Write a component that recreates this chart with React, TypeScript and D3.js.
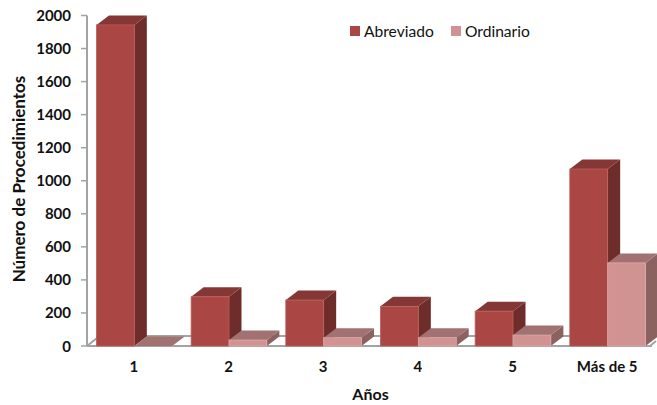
import React from "react";
import * as d3 from "d3";

const categories = ["1", "2", "3", "4", "5", "Más de 5"];
const abreviado = [1943, 298, 278, 240, 211, 1071];
const ordinario = [0, 36, 50, 50, 66, 503];
const yTicks = [0, 200, 400, 600, 800, 1000, 1200, 1400, 1600, 1800, 2000];
const seriesNames = ["Abreviado", "Ordinario"];

const W = 657;
const H = 405;
const AXIS_X = 87;
const DEPTH_X = 12.5;
const DEPTH_Y = 9.5;
const FONT = "Lato, 'Open Sans', sans-serif";

const palettes = [
  { front: "#aa4643", side: "#6e2d2b", top: "#853735", edge: "#b9605d" },
  { front: "#d19392", side: "#8c6261", top: "#a17271", edge: "#dba9a8" },
];

const y = d3.scaleLinear().domain([0, 2000]).range([346, 15.5]);
const x0 = d3
  .scaleBand<string>()
  .domain(categories)
  .range([AXIS_X, 655])
  .paddingInner(0.2)
  .paddingOuter(0.1);
const x1 = d3
  .scaleBand<number>()
  .domain([0, 1])
  .range([0, x0.bandwidth()]);

const poly = (pts: [number, number][]) => pts.map((p) => p.join(",")).join(" ");

function Bar3D({ x, w, value, pal }: { x: number; w: number; value: number; pal: (typeof palettes)[number] }) {
  const top = y(value);
  const base = y(0);
  const r = x + w;
  return (
    <g>
      <polygon
        points={poly([[r, top], [r + DEPTH_X, top - DEPTH_Y], [r + DEPTH_X, base - DEPTH_Y], [r, base]])}
        fill={pal.side}
      />
      <polygon
        points={poly([[x, top], [x + DEPTH_X, top - DEPTH_Y], [r + DEPTH_X, top - DEPTH_Y], [r, top]])}
        fill={pal.top}
      />
      {value > 0 && (
        <rect x={x} y={top} width={w} height={base - top} fill={pal.front} stroke={pal.edge} strokeWidth={0.8} />
      )}
    </g>
  );
}

export default function App() {
  const base = y(0);
  const floorBack = base - DEPTH_Y - 0.5;
  return (
    <svg
      width={W}
      height={H}
      viewBox={`0 0 ${W} ${H}`}
      style={{ position: "absolute", left: 0, top: 0, background: "#fff" }}
      fontFamily={FONT}
    >
      {/* floor of the 3D plot */}
      <g stroke="#a3a3a3" strokeWidth={2} fill="none">
        <line x1={AXIS_X + 9} y1={floorBack} x2={656} y2={floorBack} />
        <line x1={AXIS_X} y1={base} x2={AXIS_X + DEPTH_X} y2={floorBack} />
        <line x1={650} y1={base} x2={656} y2={base - 5} />
        <line x1={AXIS_X} y1={y(2000)} x2={AXIS_X} y2={base} />
        <line x1={AXIS_X} y1={base} x2={652} y2={base} />
        {yTicks.map((t) => (
          <line key={t} x1={AXIS_X - 6} y1={y(t)} x2={AXIS_X} y2={y(t)} strokeWidth={1.5} />
        ))}
      </g>

      {/* bars, left to right */}
      {categories.map((c, i) => (
        <g key={c}>
          {[abreviado[i], ordinario[i]].map((v, s) => (
            <Bar3D key={s} x={x0(c)! + x1(s)!} w={x1.bandwidth()} value={v} pal={palettes[s]} />
          ))}
        </g>
      ))}

      {/* value axis labels */}
      <g fontSize={15} fontWeight={700} fill="#111" textAnchor="end">
        {yTicks.map((t) => (
          <text key={t} x={71} y={y(t) + 5.5}>
            {t}
          </text>
        ))}
      </g>

      {/* category labels */}
      <g fontSize={15} fontWeight={700} fill="#111" textAnchor="middle">
        {categories.map((c) => (
          <text key={c} x={x0(c)! + x0.bandwidth() / 2 - 0.5} y={371.5}>
            {c}
          </text>
        ))}
      </g>

      <text x={370.5} y={400} fontSize={16} fontWeight={700} fill="#111" textAnchor="middle">
        Años
      </text>
      <text
        transform="translate(25,179) rotate(-90)"
        fontSize={17}
        fontWeight={700}
        fill="#111"
        textAnchor="middle"
      >
        Número de Procedimientos
      </text>

      {/* legend */}
      <g fontSize={15.6} fill="#111">
        {seriesNames.map((name, i) => {
          const lx = [350, 451][i];
          return (
            <g key={name}>
              <rect x={lx} y={26} width={10} height={10} fill={palettes[i].front} />
              <text x={lx + 14} y={36.5}>
                {name}
              </text>
            </g>
          );
        })}
      </g>
    </svg>
  );
}
